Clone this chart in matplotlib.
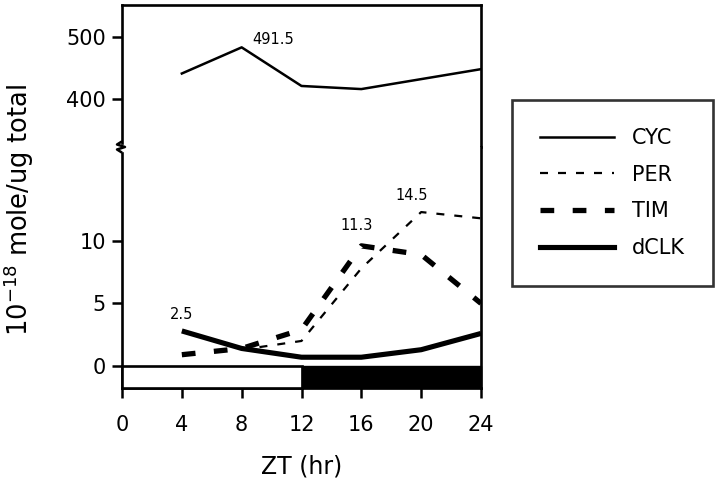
import numpy as np
import matplotlib.pyplot as plt
from matplotlib.lines import Line2D
from matplotlib.patches import Rectangle

#################################################
## data
#################################################
zt = [4, 8, 12, 16, 20, 24]
cyc = [441, 483, 421, 416, 432, 448]
per_zt = [8, 12, 16, 20, 24]
per = [1.3, 2.0, 7.8, 12.3, 11.8]
tim = [0.9, 1.4, 2.9, 9.6, 8.9, 5.0]
dclk = [2.8, 1.4, 0.7, 0.7, 1.3, 2.6]

xticks = [0, 4, 8, 12, 16, 20, 24]
top_ticks = [400, 500]
bot_ticks = [0, 5, 10]

# peak labels: (x, y, text)
top_labels = [(8.7, 483.5, '491.5')]
bot_labels = [(3.2, 3.5, '2.5'), (14.6, 10.6, '11.3'), (18.3, 13.0, '14.5')]

plt.rcParams['font.family'] = ['DejaVu Sans']
plt.rcParams['mathtext.fontset'] = 'dejavusans'

#################################################
## figure with broken y axis
#################################################
W, H = 720, 490
fig = plt.figure(figsize=(7.2, 4.9), dpi=100)
L, R = 122, 481
yb_top, y_mid, y_bot = 5, 147, 388
ax_t = fig.add_axes([L / W, 1 - y_mid / H, (R - L) / W, (y_mid - yb_top) / H])
ax_b = fig.add_axes([L / W, 1 - y_bot / H, (R - L) / W, (y_bot - y_mid) / H])

for ax in (ax_t, ax_b):
    ax.set_xlim(0, 24)
    for s in ax.spines.values():
        s.set_linewidth(1.9)
    ax.tick_params(axis='both', direction='out', length=7.5, width=1.8,
                   labelsize=15, pad=4)

ax_t.set_ylim(323, 551)
ax_b.set_ylim(-1.76, 17.5)

ax_t.spines['bottom'].set_visible(False)
ax_b.spines['top'].set_visible(False)
ax_t.spines['left'].set_bounds(330, 551)
ax_b.spines['left'].set_bounds(-1.76, 17.0)
ax_t.set_xticks([])
ax_t.set_yticks(top_ticks)
ax_b.set_yticks(bot_ticks)
ax_b.set_xticks(xticks)
ax_b.tick_params(axis='x', pad=12)

# break squiggle on the left spine
zx = np.array([121, 117, 125, 117, 121]) / W
zy = 1 - np.array([142, 144.5, 147, 149.5, 152]) / H
fig.add_artist(Line2D(zx, zy, color='black', lw=1.8, transform=fig.transFigure))

#################################################
## lines
#################################################
ax_t.plot(zt, cyc, color='black', lw=1.8)
ax_b.plot(per_zt, per, color='black', lw=1.6, linestyle=(0, (3.6, 4.5)))
ax_b.plot(zt, tim, color='black', lw=3.8, linestyle=(0, (2.6, 3.5)))
ax_b.plot(zt, dclk, color='black', lw=3.7, solid_capstyle='butt')

for x, y, t in top_labels:
    ax_t.text(x, y, t, fontsize=10.5, ha='left', va='bottom')
for x, y, t in bot_labels:
    ax_b.text(x, y, t, fontsize=10.5, ha='left', va='bottom')

# light / dark bar
ax_b.add_patch(Rectangle((0, -1.76), 12, 1.76, facecolor='white',
                         edgecolor='black', lw=1.9, zorder=3, clip_on=False))
ax_b.add_patch(Rectangle((12, -1.76), 12, 1.76, facecolor='black',
                         edgecolor='black', lw=1.0, zorder=3, clip_on=False))

#################################################
## labels and legend
#################################################
ax_b.set_xlabel('ZT (hr)', fontsize=17, labelpad=14)
fig.text(19 / W, 1 - 210 / H, r'10$^{-18}$ mole/ug total', rotation=90,
         fontsize=18.5, ha='center', va='center')

handles = [Line2D([], [], color='black', lw=1.8),
           Line2D([], [], color='black', lw=1.6, linestyle=(0, (3.6, 4.5))),
           Line2D([], [], color='black', lw=3.8, linestyle=(0, (2.6, 3.5))),
           Line2D([], [], color='black', lw=3.7)]
leg = fig.legend(handles, ['CYC', 'PER', 'TIM', 'dCLK'], loc='upper left',
                 bbox_to_anchor=(512 / W, 1 - 100 / H), fontsize=15,
                 frameon=True, fancybox=False, edgecolor='black',
                 handlelength=3.55, handletextpad=0.85, labelspacing=0.8,
                 borderpad=1.35, borderaxespad=0)
leg.get_frame().set_linewidth(1.9)

fig.savefig('out.png', dpi=100)
